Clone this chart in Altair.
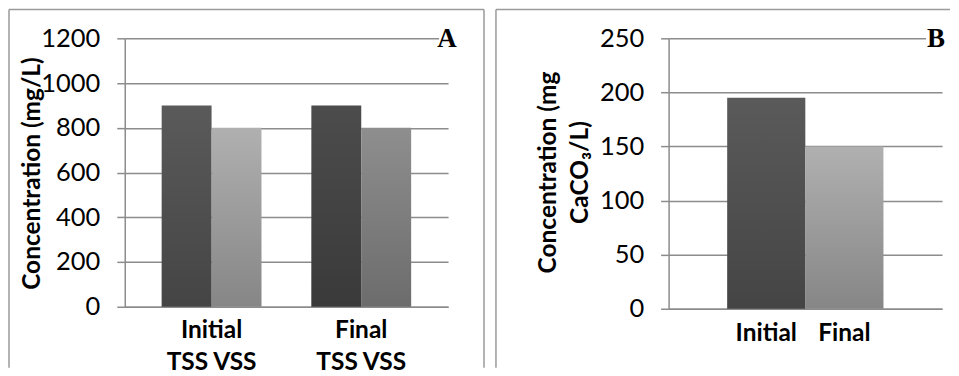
import altair as alt
import pandas as pd

# ---------------- data ----------------
a_stages = ["Initial", "Final"]
a_series = ["TSS", "VSS"]
a_tss = [900, 900]
a_vss = [800, 800]
a_sublabel = "TSS VSS"
a_ticks = [0, 200, 400, 600, 800, 1000, 1200]
a_title = "Concentration (mg/L)"

b_stages = ["Initial", "Final"]
b_values = [195, 150]
b_ticks = [0, 50, 100, 150, 200, 250]
b_title = ["Concentration (mg", "CaCO\u2083/L)"]

FONT = "Lato"
GRID = "#8c8c8c"
BORDER = "#9a9a9a"

rowsA = []
for i, st in enumerate(a_stages):
    rowsA.append({"stage": st, "series": "TSS", "value": a_tss[i], "key": st + "-TSS"})
    rowsA.append({"stage": st, "series": "VSS", "value": a_vss[i], "key": st + "-VSS"})
dfA = pd.DataFrame(rowsA)
dfB = pd.DataFrame({"stage": b_stages, "value": b_values})
one = pd.DataFrame({"k": [0]})

shade = alt.LinearGradient(
    gradient="linear",
    stops=[alt.GradientStop(offset=0, color="rgba(0,0,0,0)"),
           alt.GradientStop(offset=1, color="rgba(0,0,0,0.24)")],
    x1=0, x2=0, y1=0, y2=1,
)


def yaxis(values, title, title_x, title_y):
    return alt.Axis(
        values=values, format="d", title=title, grid=True, gridColor=GRID, gridWidth=1.5,
        domainColor=GRID, domainWidth=1.5, tickColor=GRID, tickWidth=1.5, tickSize=8,
        labelFont=FONT, labelFontSize=25.5, labelColor="black", labelPadding=17,
        titleFont=FONT, titleFontSize=24.5, titleFontWeight="bold", titleColor="black",
        titleAngle=-90, titleX=title_x, titleY=title_y, titleAlign="center",
        titleBaseline="middle", titleLineHeight=32,
    )


def xaxis(expr=None, pad=12):
    kw = dict(
        title=None, ticks=False, labelAngle=0, labelFont=FONT, labelFontSize=24.5,
        labelFontWeight="bold", labelColor="black", labelPadding=pad,
        labelLineHeight=32, domainColor=GRID, domainWidth=1.5, grid=False,
    )
    if expr:
        kw["labelExpr"] = expr
    return alt.Axis(**kw)


def border(left, right, top, bottom, with_right=True):
    base = alt.Chart(one)
    parts = [
        base.mark_rule(color=BORDER, strokeWidth=1.5).encode(
            x=alt.value(left), y=alt.value(top), y2=alt.value(bottom)),
        base.mark_rule(color=BORDER, strokeWidth=1.5).encode(
            x=alt.value(left), x2=alt.value(right), y=alt.value(top)),
    ]
    if with_right:
        parts.append(base.mark_rule(color=BORDER, strokeWidth=1.5).encode(
            x=alt.value(right), y=alt.value(top), y2=alt.value(bottom)))
    return parts


def letter(txt, x, gap_from, gap_to):
    base = alt.Chart(one)
    return [
        base.mark_rect(color="white").encode(
            x=alt.value(gap_from), x2=alt.value(gap_to), y=alt.value(-3), y2=alt.value(3)),
        base.mark_text(text=txt, font="Liberation Serif", fontWeight="bold", fontSize=27,
                       color="black", align="center", baseline="alphabetic").encode(
            x=alt.value(x), y=alt.value(9)),
    ]


# ---------------- panel A ----------------
WA, HA = 324, 269
xA = alt.X("stage:N", sort=a_stages,
           scale=alt.Scale(paddingInner=1 / 3, paddingOuter=0.2467),
           axis=xaxis("[datum.label, '" + a_sublabel + "']", 12))
xoA = alt.XOffset("series:N", sort=a_series, scale=alt.Scale(paddingInner=0, paddingOuter=0))
yA = alt.Y("value:Q", scale=alt.Scale(domain=[0, 1200]),
           axis=yaxis(a_ticks, a_title, -92, 135))

barsA = alt.Chart(dfA).mark_bar().encode(
    x=xA, xOffset=xoA, y=yA,
    color=alt.Color("key:N", legend=None,
                    scale=alt.Scale(domain=["Initial-TSS", "Initial-VSS", "Final-TSS", "Final-VSS"],
                                    range=["#5a5a5a", "#b0b0b0", "#4c4c4c", "#8e8e8e"])),
)
shadeA = alt.Chart(dfA).mark_bar(color=shade).encode(x=xA, xOffset=xoA, y=yA)

panelA = alt.layer(
    barsA, shadeA, *letter("A", 323, 315, 332), *border(-116, 360, -29, 330)
).properties(width=WA, height=HA)

# ---------------- panel B ----------------
WB, HB = 274, 271
xB = alt.X("stage:N", sort=b_stages,
           scale=alt.Scale(paddingInner=0, paddingOuter=0.75),
           axis=xaxis(None, 13))
yB = alt.Y("value:Q", scale=alt.Scale(domain=[0, 250]),
           axis=yaxis(b_ticks, b_title, -120, 134))

barsB = alt.Chart(dfB).mark_bar().encode(
    x=xB, y=yB,
    color=alt.Color("stage:N", legend=None,
                    scale=alt.Scale(domain=b_stages, range=["#5e5e5e", "#ababab"])),
)
shadeB = alt.Chart(dfB).mark_bar(color=shade).encode(x=xB, y=yB)

panelB = alt.layer(
    barsB, shadeB, *letter("B", 268, 258, 278), *border(-173, 282, -29, 330, with_right=False)
).properties(width=WB, height=HB)

chart = alt.hconcat(panelA, panelB, spacing=10).properties(
    padding=0, background="white"
).configure_view(stroke=None)

chart.save("out.html", embed_options={"renderer": "svg", "actions": False})
